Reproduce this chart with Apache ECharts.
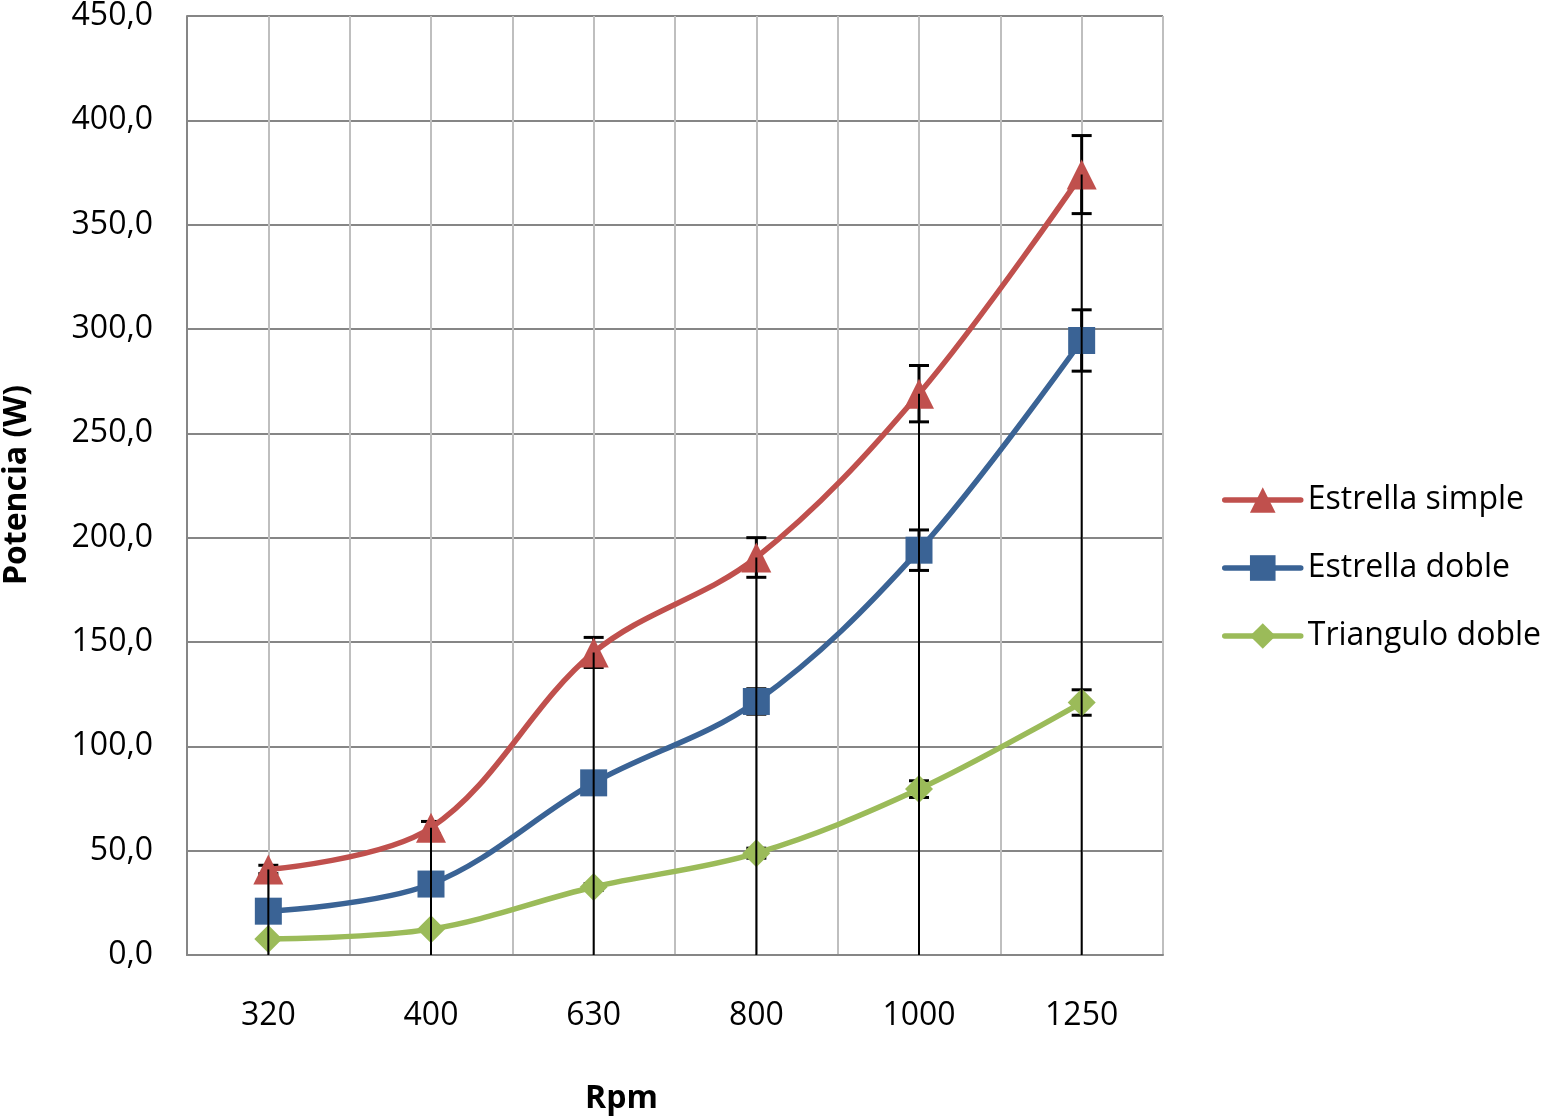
<!DOCTYPE html>
<html>
<head>
<meta charset="utf-8">
<script src="https://cdn.jsdelivr.net/npm/echarts@6/dist/echarts.min.js"></script>
<style>
  html, body { margin: 0; padding: 0; background: #fff; }
  #chart { width: 1544px; height: 1120px; }
</style>
</head>
<body>
<div id="chart"></div>
<script>
// values (W)
const rpm        = ['320', '400', '630', '800', '1000', '1250'];
const simple     = [41, 61, 145, 190.5, 269, 374];
const doble      = [21, 34, 82.5, 121.5, 194, 294.5];
const triangulo  = [7.7, 12.4, 32.6, 48.8, 79.5, 121];
// half-height of each error bar (W)
const errSimple  = [2, 3, 7.2, 9.5, 13.5, 18.7];
const errDoble   = [1, 1.7, 4.1, 6.1, 9.7, 14.7];
const errTri     = [0.4, 0.6, 1.6, 2.4, 4, 6.1];
const yTicks     = [0, 50, 100, 150, 200, 250, 300, 350, 400, 450];

const FONT = 'Open Sans';
const RED = '#C0504D', BLUE = '#3A6395', GREEN = '#9BBB59';

const chart = echarts.init(document.getElementById('chart'), null, { renderer: 'canvas' });

function errData(vals, errs) {
    return vals.map((v, i) => [i, v - errs[i], v + errs[i]]);
}

function renderErr(params, api) {
    const lo = api.coord([api.value(0), api.value(1)]);
    const hi = api.coord([api.value(0), api.value(2)]);
    const w = 10;
    const st = { stroke: '#000', lineWidth: 3 };
    return {
        type: 'group',
        children: [
            { type: 'line', shape: { x1: hi[0], y1: hi[1], x2: lo[0], y2: lo[1] }, style: st },
            { type: 'line', shape: { x1: hi[0] - w, y1: hi[1], x2: hi[0] + w, y2: hi[1] }, style: st },
            { type: 'line', shape: { x1: lo[0] - w, y1: lo[1], x2: lo[0] + w, y2: lo[1] }, style: st },
        ],
    };
}

function renderDrop(params, api) {
    const top = api.coord([api.value(0), api.value(1)]);
    const bot = api.coord([api.value(0), 0]);
    return {
        type: 'line',
        shape: { x1: top[0], y1: top[1], x2: bot[0], y2: bot[1] },
        style: { stroke: '#000', lineWidth: 2 },
    };
}

function lineSeries(name, vals, color, symbol, size) {
    return {
        name, type: 'line', data: vals, smooth: 0.35,
        symbol, symbolSize: size,
        lineStyle: { color, width: 5.5 },
        itemStyle: { color },
        z: 3,
    };
}

chart.setOption({
    animation: false,
    grid: { left: 187, top: 15, width: 976, height: 940 },
    xAxis: [
        {
            type: 'category', data: rpm, boundaryGap: true,
            axisLine: { lineStyle: { color: '#868686', width: 2 } },
            axisTick: { show: false },
            splitLine: { show: false },
            axisLabel: { color: '#000', fontFamily: FONT, fontSize: 32, margin: 45 },
        },
        {
            // half-category vertical grid
            type: 'value', min: 0, max: 12, interval: 1, position: 'top',
            axisLine: { show: false }, axisTick: { show: false }, axisLabel: { show: false },
            splitLine: { lineStyle: { color: '#BFBFBF', width: 2 } },
        },
    ],
    yAxis: {
        type: 'value', min: 0, max: 450, interval: 50,
        axisLine: { show: true, lineStyle: { color: '#868686', width: 2 } },
        axisTick: { show: false },
        splitLine: { lineStyle: { color: '#868686', width: 2 } },
        axisLabel: {
            color: '#000', fontFamily: FONT, fontSize: 32, margin: 34,
            formatter: v => yTicks.includes(v) ? v.toFixed(1).replace('.', ',') : '',
        },
    },
    legend: {
        data: ['Estrella simple', 'Estrella doble', 'Triangulo doble'],
        orient: 'vertical', left: 1222, top: 484, padding: 0,
        itemWidth: 76, itemHeight: 32, itemGap: 36,
        lineStyle: { width: 5.5, cap: 'round' },
        textStyle: { color: '#000', fontFamily: FONT, fontSize: 32, lineHeight: 32, padding: [0, 0, 0, 2] },
    },
    graphic: [
        {
            type: 'text', left: 585, top: 1083,
            style: { text: 'Rpm', font: 'bold 32px "' + FONT + '"', fill: '#000' },
        },
        {
            type: 'text', x: 17, y: 485, rotation: Math.PI / 2,
            style: { text: 'Potencia (W)', font: 'bold 32px "' + FONT + '"', fill: '#000',
                     align: 'center', verticalAlign: 'middle' },
        },
    ],
    series: [
        { type: 'custom', renderItem: renderErr, data: errData(simple, errSimple), z: 2, silent: true },
        { type: 'custom', renderItem: renderErr, data: errData(doble, errDoble), z: 2, silent: true },
        { type: 'custom', renderItem: renderErr, data: errData(triangulo, errTri), z: 2, silent: true },
        lineSeries('Estrella simple', simple, RED, 'triangle', 30),
        lineSeries('Estrella doble', doble, BLUE, 'rect', 27),
        lineSeries('Triangulo doble', triangulo, GREEN, 'diamond', 28),
        { type: 'custom', renderItem: renderDrop, data: simple.map((v, i) => [i, v]), z: 5, silent: true },
    ],
});
</script>
</body>
</html>
